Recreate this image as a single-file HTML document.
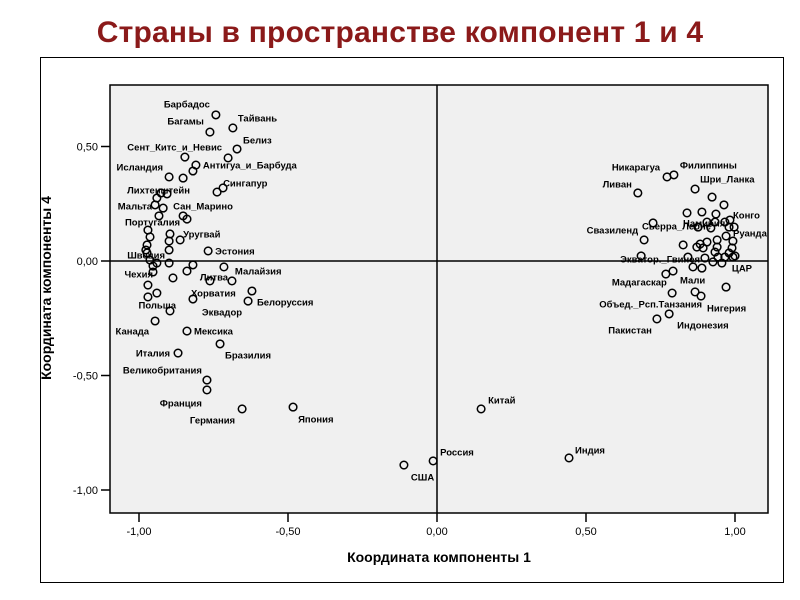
<!DOCTYPE html>
<html><head><meta charset="utf-8">
<style>
html,body{margin:0;padding:0;background:#fff;}
body{width:800px;height:600px;position:relative;overflow:hidden;font-family:"Liberation Sans",sans-serif;}
#title{position:absolute;left:0;top:16px;width:800px;text-align:center;font-size:30px;font-weight:bold;color:#8b1a1a;letter-spacing:0.2px;}
#frame{position:absolute;left:40px;top:57px;width:744px;height:526px;border:1px solid #000;box-sizing:border-box;}
svg{position:absolute;left:0;top:0;}
</style></head>
<body>
<div id="title">Страны в пространстве компонент 1 и 4</div>
<div id="frame"></div>
<svg id="chart" width="800" height="600"></svg>
<script>
const xTicks = [-1, -0.5, 0, 0.5, 1];
const yTicks = [0.5, 0, -0.5, -1];
const xTickLabels = ["-1,00", "-0,50", "0,00", "0,50", "1,00"];
const yTickLabels = ["0,50", "0,00", "-0,50", "-1,00"];
const xValues = [-0.742,-0.762,-0.685,-0.671,-0.701,-0.846,-0.809,-0.819,-0.899,-0.852,-0.718,-0.738,-0.926,-0.906,-0.940,-0.946,-0.919,-0.933,-0.852,-0.839,-0.970,-0.963,-0.896,-0.862,-0.899,-0.973,-0.977,-0.899,-0.768,-0.963,-0.940,-0.899,-0.953,-0.973,-0.953,-0.819,-0.839,-0.715,-0.886,-0.762,-0.688,-0.970,-0.940,-0.970,-0.621,-0.634,-0.819,-0.896,-0.946,-0.839,-0.728,-0.869,-0.772,-0.772,-0.654,-0.483,
0.148,-0.013,-0.111,0.443,
0.772,0.795,0.674,0.866,0.923,0.963,0.839,0.889,0.936,0.725,0.983,0.906,0.933,0.966,0.876,0.919,0.980,0.997,0.695,0.826,0.883,0.906,0.940,0.970,0.993,0.872,0.893,0.940,0.990,0.933,0.980,0.685,1.000,0.842,0.899,0.943,0.966,0.993,0.926,0.956,0.859,0.889,0.792,0.768,0.970,0.789,0.866,0.886,0.779,0.738];
const yValues = [0.638,0.563,0.581,0.489,0.450,0.454,0.419,0.393,0.367,0.362,0.319,0.301,0.297,0.293,0.275,0.245,0.231,0.197,0.197,0.183,0.135,0.105,0.118,0.092,0.087,0.070,0.048,0.048,0.044,0.004,-0.009,-0.009,-0.022,0.035,-0.048,-0.017,-0.044,-0.026,-0.074,-0.087,-0.087,-0.105,-0.140,-0.157,-0.131,-0.175,-0.166,-0.218,-0.262,-0.306,-0.362,-0.402,-0.520,-0.563,-0.646,-0.638,
-0.646,-0.873,-0.891,-0.860,
0.367,0.376,0.297,0.314,0.279,0.245,0.210,0.214,0.205,0.166,0.179,0.170,0.170,0.170,0.148,0.144,0.148,0.148,0.092,0.070,0.074,0.083,0.092,0.109,0.087,0.061,0.057,0.061,0.057,0.039,0.035,0.022,0.022,0.017,0.013,0.017,0.017,0.017,-0.004,-0.009,-0.026,-0.031,-0.044,-0.057,-0.114,-0.140,-0.135,-0.153,-0.231,-0.253];
const countryNames = {0:"Барбадос",1:"Багамы",2:"Тайвань",3:"Белиз",4:"Сент_Китс_и_Невис",6:"Антигуа_и_Барбуда",8:"Исландия",11:"Сингапур",13:"Лихтенштейн",15:"Мальта",16:"Сан_Марино",18:"Португалия",23:"Уругвай",28:"Эстония",29:"Швеция",34:"Чехия",39:"Литва",37:"Малайзия",46:"Хорватия",44:"Белоруссия",45:"Эквадор",47:"Польша",48:"Канада",49:"Мексика",50:"Бразилия",51:"Италия",52:"Великобритания",53:"Франция",54:"Германия",55:"Япония",56:"Китай",57:"Россия",58:"США",59:"Индия",60:"Никарагуа",61:"Филиппины",63:"Шри_Ланка",62:"Ливан",66:"Намибия",65:"Конго",69:"Сьерра_Леоне",78:"Свазиленд",76:"Руанда",91:"Экватор._Гвинея",99:"ЦАР",103:"Мадагаскар",102:"Мали",105:"Объед._Рсп.Танзания",107:"Нигерия",109:"Пакистан",108:"Индонезия"};
// label placement (layout, not data): [dx, dy, anchor]
const labelPlacement = {0:[-6,-11,"end"],1:[-6,-11,"end"],2:[5,-10,"start"],3:[6,-9,"start"],4:[-6,-11,"end"],6:[7,0,"start"],8:[-6,-10,"end"],11:[6,-9,"start"],13:[23,-4,"end"],15:[-3,1,"end"],16:[10,-2,"start"],18:[-3,6,"end"],23:[3,-6,"start"],28:[7,0,"start"],29:[15,-5,"end"],34:[0,2,"end"],39:[-10,-4,"start"],37:[11,4,"start"],46:[-2,-6,"start"],44:[5,11,"start"],45:[-6,11,"end"],47:[6,-6,"end"],48:[-6,10,"end"],49:[7,0,"start"],50:[5,11,"start"],51:[-8,0,"end"],52:[-5,-10,"end"],53:[-5,13,"end"],54:[-7,11,"end"],55:[5,12,"start"],56:[7,-9,"start"],57:[7,-9,"start"],58:[7,12,"start"],59:[6,-8,"start"],60:[-7,-10,"end"],61:[6,-10,"start"],63:[5,-10,"start"],62:[-6,-9,"end"],66:[-4,10,"start"],65:[9,10,"start"],69:[-11,3,"start"],78:[-6,-10,"end"],76:[4,6,"start"],91:[-21,3,"start"],99:[10,5,"start"],103:[1,8,"end"],102:[7,9,"start"],105:[30,11,"end"],107:[6,12,"start"],109:[-5,11,"end"],108:[8,11,"start"]};

const NS="http://www.w3.org/2000/svg";
const svg=document.getElementById('chart');
const L=110,R=768,T=85,B=513;
function sx(v){return 437+v*298;}
function sy(v){return 261-v*229;}
function mk(tag,attrs,parent){const e=document.createElementNS(NS,tag);for(const k in attrs)e.setAttribute(k,attrs[k]);(parent||svg).appendChild(e);return e;}

const bg=mk('rect',{x:L,y:T,width:R-L,height:B-T,fill:'#f0f0f0',stroke:'#000','stroke-width':1.5});


const cp=mk('clipPath',{id:'clip'});mk('rect',{x:L,y:T,width:R-L,height:B-T},cp);

const vl=mk('line',{x1:sx(0),x2:sx(0),y1:T,y2:B,stroke:'#000','stroke-width':1.5});


const hl=mk('line',{x1:L,x2:R,y1:sy(0),y2:sy(0),stroke:'#000','stroke-width':1.5});



xTicks.forEach((t,i)=>{
  const tk=mk('line',{x1:sx(t),x2:sx(t),y1:B,y2:B+9,stroke:'#000','stroke-width':1.5});
  
  
  const tx=mk('text',{x:sx(t),y:B+22,'text-anchor':'middle','font-size':11,fill:'#000'});
  tx.textContent=xTickLabels[i];
  
  
});
yTicks.forEach((t,i)=>{
  const tk=mk('line',{x1:L-9,x2:L,y1:sy(t),y2:sy(t),stroke:'#000','stroke-width':1.5});
  
  
  const tx=mk('text',{x:L-12,y:sy(t)+4,'text-anchor':'end','font-size':11,fill:'#000'});
  tx.textContent=yTickLabels[i];
  
  
});

const g=mk('g',{'clip-path':'url(#clip)'});


xValues.forEach((xv,i)=>{
  const c=mk('circle',{cx:sx(xv),cy:sy(yValues[i]),r:3.8,fill:'none',stroke:'#000','stroke-width':1.5},g);
  
  
});
Object.keys(countryNames).forEach(k=>{
  const i=+k;const p=labelPlacement[i]||[5,0,'start'];
  const tx=mk('text',{x:sx(xValues[i])+p[0],y:sy(yValues[i])+p[1]+3.5,'text-anchor':p[2],'font-size':9.5,'font-weight':'bold',fill:'#000'},g);
  tx.textContent=countryNames[i];
  
  
});

const xt=mk('text',{x:439,y:562,'text-anchor':'middle','font-size':14,'font-weight':'bold',fill:'#000'});
xt.textContent='Координата компоненты 1';


const yt=mk('text',{x:0,y:0,'text-anchor':'middle','font-size':14,'font-weight':'bold',fill:'#000',transform:'translate(51,288) rotate(-90)'});
yt.textContent='Координата компоненты 4';


</script>
</body></html>
